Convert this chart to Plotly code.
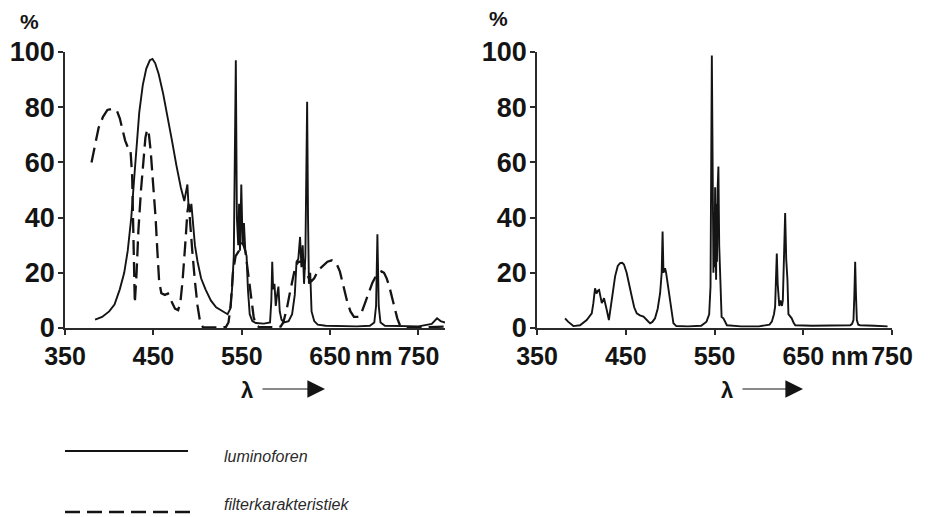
import plotly.graph_objects as go

# ---------------- data ----------------
lum_left_wl = [384, 392, 400, 406, 412, 417, 421, 425, 428, 431, 434, 438, 442, 446, 449, 452, 456, 461, 466,
               471, 476, 481, 485, 487, 488.5, 490, 491.5, 493, 494.5, 497, 500, 504, 509, 515, 521, 528, 534,
               537, 539, 541, 543.3, 544.5, 546, 547, 548, 549.5, 551, 552.5, 554, 555.5, 557, 559, 562, 566,
               575, 582, 583.5, 584.5, 585.5, 587, 588.5, 590, 591.5, 593, 595, 598, 603, 607, 610, 612, 614,
               616, 617.5, 619, 620.5, 622, 624, 625, 626, 627.5, 629, 632, 636, 645, 660, 680, 695, 700, 702,
               703.5, 705, 707, 712, 730, 750, 765, 771, 775, 780]
lum_left_val = [3.0, 4.0, 6.0, 8.5, 14, 20, 28, 40, 53, 66, 78, 88, 94, 97, 97.5, 96, 92, 85, 77,
                68, 59, 51, 46, 49, 52, 43, 42, 45, 38, 30, 24, 18, 14, 10, 7.5, 6, 5,
                7, 14, 26, 97, 40, 30, 45, 28, 52, 30, 38, 28, 26, 14, 5, 2.5, 1.8,
                1.6, 2, 10, 24, 14, 16, 8, 12, 15, 6, 3, 2, 2.5, 5, 12, 24, 25,
                33, 22, 30, 16, 26, 82, 40, 16, 20, 6, 2.5, 1.2, 0.8, 0.6, 0.6, 0.8, 2, 8,
                34, 8, 2, 0.8, 0.6, 0.6, 1.5, 3.5, 2.5, 2]

filt_left_wl = [380, 384, 388, 393, 398, 404, 409, 412, 415, 418, 421, 424, 426, 427.5, 429, 431, 433, 436, 439,
                441, 443, 445, 447, 450, 452.5, 454.5, 456.5, 459, 463, 466.5, 469, 471.5, 474.5, 478, 480.5,
                483, 486, 488.5, 490, 491.5, 494, 497, 500, 503, 506, 520, 532, 535, 537.5, 540, 543, 547, 551,
                554, 556, 558.5, 561, 563.5, 566, 570, 585, 594, 597, 601, 604, 607, 610.5, 614, 618, 622, 626,
                629, 632, 636.7, 642, 647, 652, 657, 661, 665, 669, 673, 677, 682, 686, 690, 694, 698, 703, 708,
                711, 714, 717, 720, 723, 726, 729, 735, 760, 775, 780]
filt_left_val = [60, 67, 72.5, 76.5, 79, 79.5, 78.5, 76, 72, 68, 65.5, 65, 55, 30, 9, 20, 35, 50, 63,
                 69, 72, 70, 64, 52, 40, 28, 17, 12.6, 12, 12.5, 11, 9, 7, 6.5, 9,
                 17, 30, 42, 45, 38, 28, 17, 8, 2, 0.3, 0.2, 0.3, 2, 8, 20, 26, 28, 31,
                 28, 23, 17, 10, 4, 1, 0.3, 0.3, 0.5, 2, 7, 12, 17, 22, 24, 24, 21, 18,
                 17, 18, 21, 22.5, 24, 24.5, 23.5, 20.5, 15, 10, 6, 4, 4, 6, 9.5, 13, 16.5, 19.5, 20.5,
                 20, 18, 15, 11, 7, 3.5, 1, 0.3, 0.3, 0.5, 0.5]

lum_right_wl = [381.6, 385, 391, 398.5, 406, 411.7, 413.5, 415.4, 417, 418.5, 420, 421.5, 423, 425.5, 427, 428.6,
                431, 434, 436, 438, 441, 443.6, 446, 448, 451, 454, 456.8, 459.5, 462.4, 466, 470, 474, 477.4,
                480, 483, 486, 488.7, 490.5, 491.5, 492.5, 494.3, 495.5, 498, 500, 502, 503.7, 507, 520, 535,
                541, 544, 545.5, 547, 548.2, 548.8, 549.4, 550, 550.7, 551.2, 551.8, 552.3, 552.8, 553.5, 554.4,
                555.3, 556.3, 557.3, 558, 560, 562, 564, 580, 600, 612, 614.6, 617, 618.3, 619.3, 620.2, 621.2,
                622, 623, 624.5, 626, 627, 628.3, 629.6, 630.8, 632.2, 633.3, 635, 637, 639, 641, 660, 680, 700,
                703, 705, 706.6, 707.6, 708.5, 709.4, 710.4, 712, 714, 730, 745]
lum_right_val = [3.5, 2.3, 0.7, 1.0, 2.9, 5.3, 9, 14.4, 12.5, 13.5, 13.8, 11, 9, 10.8, 9, 6.5,
                 2.9, 10, 15, 18.7, 22.5, 23.5, 23.6, 23, 20, 15, 11.4, 7.5, 5.3, 4.6, 4.1, 2.8, 1.7,
                 2.2, 3.5, 7, 12.6, 20, 35, 20, 21.7, 20, 14, 10, 4, 1.7, 0.7, 0.6, 0.8,
                 2.3, 5, 15, 98.7, 30, 20, 42, 22, 51, 30, 17.5, 45, 24, 50, 58.5,
                 30, 17.5, 8, 4, 3.5, 2, 1, 0.6, 0.6, 1.2, 2.3, 5, 7.7, 18, 27, 16,
                 10, 8, 10, 8, 10, 25, 41.7, 25, 17.5, 5, 4.2, 3.5, 2, 1, 0.8, 0.8, 1,
                 1, 1.5, 2.9, 12, 24, 12, 2.9, 1.2, 1, 0.8, 0.6]

x_tick_vals = [350, 450, 550, 650, 750]
x_tick_text = ["350", "450", "550", "650", "750"]
y_tick_vals = [0, 20, 40, 60, 80, 100]
y_tick_text = ["0", "20", "40", "60", "80", "100"]
legend_names = ["luminoforen", "filterkarakteristiek"]

# ---------------- figure ----------------
# the page body has an 8px margin, so the figure is drawn 8px smaller and all
# layout positions (given in window pixels) are shifted by that offset
OFF = 8
W, H = 932 - OFF, 517 - OFF
INK = "#141414"
LINE_W = 1.9
DASH = "15px,7px"

fig = go.Figure()
fig.add_trace(go.Scatter(x=lum_left_wl, y=lum_left_val, mode="lines", name=legend_names[0],
                         line=dict(color=INK, width=LINE_W), xaxis="x", yaxis="y", showlegend=False))
fig.add_trace(go.Scatter(x=filt_left_wl, y=filt_left_val, mode="lines", name=legend_names[1],
                         line=dict(color=INK, width=LINE_W + 0.4, dash=DASH), xaxis="x", yaxis="y",
                         showlegend=False))
fig.add_trace(go.Scatter(x=lum_right_wl, y=lum_right_val, mode="lines", name=legend_names[0],
                         line=dict(color=INK, width=LINE_W), xaxis="x2", yaxis="y2", showlegend=False))

def px(v):
    return (v - OFF) / W

def py(v):
    return 1 - (v - OFF) / H

ydom = [py(328), py(52)]
xtick_font = dict(family="Liberation Sans", size=25, color=INK, weight="bold")
ytick_font = dict(family="Liberation Sans", size=27, color=INK, weight="bold")

common_x = dict(showline=True, linecolor="#2a2a2a", linewidth=1.5, ticks="outside", ticklen=5,
                tickwidth=1.5, tickcolor="#2a2a2a", showgrid=False, zeroline=False, automargin=False,
                tickvals=x_tick_vals, ticktext=x_tick_text, tickfont=xtick_font, ticklabelstandoff=0)
common_y = dict(showline=True, linecolor="#2a2a2a", linewidth=1.5, ticks="outside", ticklen=5,
                tickwidth=1.5, tickcolor="#2a2a2a", showgrid=False, zeroline=False, range=[0, 100],
                automargin=False,
                tickvals=y_tick_vals, ticktext=y_tick_text, tickfont=ytick_font, ticklabelstandoff=-2,
                domain=ydom)

fig.update_layout(
    width=W, height=H, margin=dict(l=0, r=0, t=0, b=0, pad=0, autoexpand=False),
    paper_bgcolor="white", plot_bgcolor="white",
    xaxis=dict(domain=[px(65), px(445)], range=[350, 780], anchor="y", **common_x),
    yaxis=dict(anchor="x", **common_y),
    xaxis2=dict(domain=[px(537), px(892)], range=[350, 750], anchor="y2", **common_x),
    yaxis2=dict(anchor="x2", **common_y),
    showlegend=False,
)

ann = []
base = dict(showarrow=False, xanchor="center", yanchor="middle")
# "%" labels
for xx, yy in [(29, 21), (498, 19)]:
    ann.append(dict(x=px(xx), y=py(yy), xref="paper", yref="paper", text="%",
                    font=dict(family="Liberation Sans", size=21, color=INK, weight="bold"), **base))
# "nm" labels between 650 and 750
ann.append(dict(x=700, y=py(356), xref="x", yref="paper", text="nm", font=xtick_font, **base))
ann.append(dict(x=703, y=py(356), xref="x2", yref="paper", text="nm", font=xtick_font, **base))
# lambda with arrow
for lx, tip in [(247, 325), (727, 803)]:
    ann.append(dict(x=px(lx), y=py(390), xref="paper", yref="paper", text="λ",
                    font=dict(family="Liberation Sans", size=22, color=INK, weight="bold"), **base))
    ann.append(dict(x=px(tip), y=py(389), xref="paper", yref="paper", text="", showarrow=True,
                    ax=-(tip - lx - 14), ay=0, arrowhead=2, arrowsize=3.2, arrowwidth=1.1,
                    arrowcolor=INK, standoff=0, startstandoff=0))
# legend texts
legend_font = dict(family="Liberation Sans", size=16, color="#2a2a2a", style="italic")
ann.append(dict(x=px(222), y=py(456), xref="paper", yref="paper", text=legend_names[0], showarrow=False,
                xanchor="left", yanchor="middle", font=legend_font))
ann.append(dict(x=px(222), y=py(504), xref="paper", yref="paper", text=legend_names[1], showarrow=False,
                xanchor="left", yanchor="middle", font=legend_font))
fig.update_layout(annotations=ann)

# legend line samples
fig.add_shape(type="line", xref="paper", yref="paper", x0=px(65), x1=px(188), y0=py(451), y1=py(451),
              line=dict(color=INK, width=2))
fig.add_shape(type="line", xref="paper", yref="paper", x0=px(65), x1=px(190), y0=py(512), y1=py(512),
              line=dict(color=INK, width=2.4, dash=DASH))

fig.write_html("out.html")
